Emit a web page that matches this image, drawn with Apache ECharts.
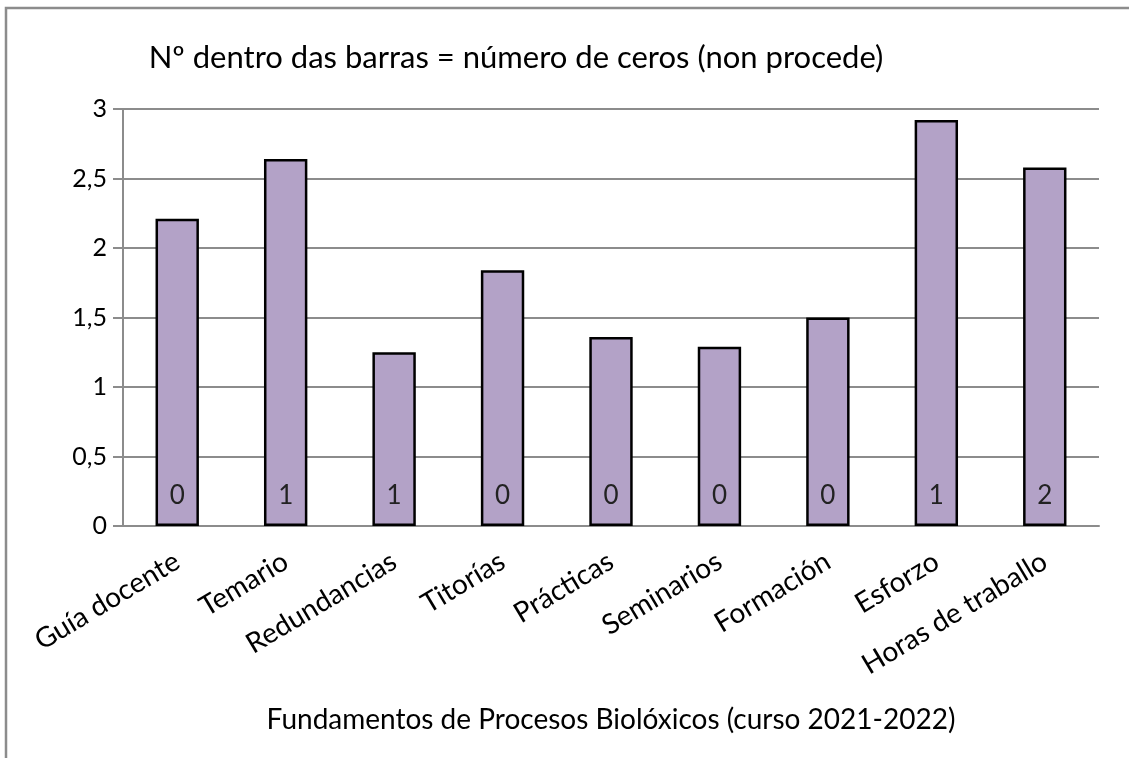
<!DOCTYPE html>
<html>
<head>
<meta charset="utf-8">
<script src="https://cdn.jsdelivr.net/npm/echarts@6/dist/echarts.min.js"></script>
<style>
  html, body { margin: 0; padding: 0; background: #fff; }
  #chart { width: 1129px; height: 758px; }
</style>
</head>
<body>
<div id="chart"></div>
<script>
// Categories on the x axis
const categories = ['Guía docente', 'Temario', 'Redundancias', 'Titorías', 'Prácticas',
                    'Seminarios', 'Formación', 'Esforzo', 'Horas de traballo'];
// Mean score per category
const meanScores = [2.21, 2.64, 1.25, 1.84, 1.36, 1.29, 1.50, 2.92, 2.58];
// Number of zero answers ("non procede"), written inside each bar
const zeroCounts = [0, 1, 1, 0, 0, 0, 0, 1, 2];
// Value axis tick labels
const yTickLabels = ['0', '0,5', '1', '1,5', '2', '2,5', '3'];

const titleText = 'Nº dentro das barras = número de ceros (non procede)';
const xAxisTitle = 'Fundamentos de Procesos Biolóxicos (curso 2021-2022)';

const FONT = 'Lato';
const chart = echarts.init(document.getElementById('chart'), null, { renderer: 'canvas' });

chart.setOption({
  animation: false,
  backgroundColor: '#ffffff',
  title: {
    text: titleText,
    left: 511,
    top: 37,
    textAlign: 'center',
    textStyle: { fontFamily: FONT, fontSize: 31, fontWeight: 'normal', color: '#000' }
  },
  graphic: [{
    type: 'rect',
    shape: { x: 6, y: 8, width: 1200, height: 800 },
    style: { fill: 'none', stroke: '#8c8c8c', lineWidth: 2.5 },
    silent: true
  }],
  grid: { left: 123, right: 30, top: 109, bottom: 232, containLabel: false },
  xAxis: {
    type: 'category',
    data: categories,
    name: xAxisTitle,
    nameLocation: 'middle',
    nameGap: 180,
    nameTextStyle: { fontFamily: FONT, fontSize: 28, color: '#000' },
    axisLine: { show: true, lineStyle: { color: '#8c8c8c', width: 2 } },
    axisTick: { show: false },
    axisLabel: {
      rotate: 31,
      margin: 33,
      interval: 0,
      fontFamily: FONT,
      fontSize: 28,
      color: '#000'
    }
  },
  yAxis: {
    type: 'value',
    min: 0,
    max: 3,
    interval: 0.5,
    axisLine: { show: true, lineStyle: { color: '#8c8c8c', width: 2 } },
    axisTick: { show: true, length: 10, lineStyle: { color: '#8c8c8c', width: 2 } },
    splitLine: { show: true, lineStyle: { color: '#8c8c8c', width: 2 } },
    axisLabel: {
      margin: 16,
      fontFamily: FONT,
      fontSize: 25,
      color: '#000',
      formatter: function (v) { return yTickLabels[Math.round(v * 2)]; }
    }
  },
  series: [{
    type: 'bar',
    data: meanScores.map(function (v, i) { return { value: v, zeros: zeroCounts[i] }; }),
    barWidth: '40%',
    itemStyle: { color: '#b3a2c7', borderColor: '#000', borderWidth: 2.5 },
    label: {
      show: true,
      position: 'insideBottom',
      distance: 17,
      fontFamily: FONT,
      fontSize: 26,
      color: '#222',
      formatter: function (p) { return String(zeroCounts[p.dataIndex]); }
    }
  }]
});
</script>
</body>
</html>
